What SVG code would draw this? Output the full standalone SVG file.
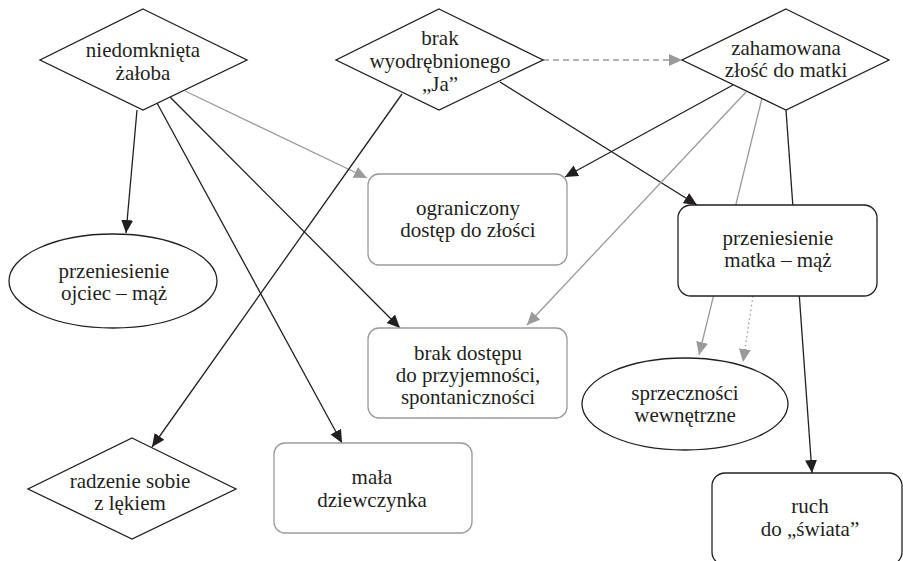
<svg xmlns="http://www.w3.org/2000/svg" width="903" height="561" viewBox="0 0 903 561">
  <style>
    .dark { fill: #fff; stroke: #231f20; stroke-width: 1.3; }
    .soft { fill: #fff; stroke: #9a9a9a; stroke-width: 1.3; }
    .e-dark { fill: none; stroke: #231f20; stroke-width: 1.3; }
    .e-soft { fill: none; stroke: #9a9a9a; stroke-width: 1.3; }
    .dashed { stroke-dasharray: 6 4; }
    .dotted { stroke-dasharray: 1.5 3; }
  </style>
  <defs>
    <marker id="head-dark" markerUnits="userSpaceOnUse" markerWidth="14" markerHeight="13" refX="13" refY="6" orient="auto">
      <path d="M0,0 L13,6 L0,12 z" fill="#231f20"/>
    </marker>
    <marker id="head-soft" markerUnits="userSpaceOnUse" markerWidth="14" markerHeight="13" refX="13" refY="6" orient="auto">
      <path d="M0,0 L13,6 L0,12 z" fill="#9a9a9a"/>
    </marker>
  </defs>
  <rect width="903" height="561" fill="#fff"/>

  <!-- connectors (drawn first so node fills cover pass-through segments) -->
  <g id="connectors">
    <line class="e-dark" x1="137" y1="110" x2="126" y2="233" marker-end="url(#head-dark)"/>
    <line class="e-dark" x1="157" y1="103" x2="342" y2="443" marker-end="url(#head-dark)"/>
    <line class="e-dark" x1="170" y1="97" x2="400" y2="328" marker-end="url(#head-dark)"/>
    <line class="e-soft" x1="185" y1="91" x2="367" y2="178" marker-end="url(#head-soft)"/>
    <line class="e-dark" x1="402" y1="94" x2="152" y2="447" marker-end="url(#head-dark)"/>
    <line class="e-dark" x1="500" y1="82" x2="697" y2="205" marker-end="url(#head-dark)"/>
    <line class="e-soft dashed" x1="543" y1="60" x2="682" y2="60" marker-end="url(#head-soft)"/>
    <line class="e-dark" x1="733" y1="85" x2="565" y2="177" marker-end="url(#head-dark)"/>
    <line class="e-soft" x1="746" y1="92" x2="527" y2="325" marker-end="url(#head-soft)"/>
    <line class="e-soft" x1="762" y1="98" x2="699" y2="355" marker-end="url(#head-soft)"/>
    <line class="e-dark" x1="786" y1="110" x2="812" y2="473" marker-end="url(#head-dark)"/>
    <line class="e-soft dotted" x1="753" y1="296" x2="743" y2="362" marker-end="url(#head-soft)"/>
  </g>

  <!-- all node labels share one serif text setting -->
  <g font-family="Liberation Serif, DejaVu Serif, serif" font-size="21" fill="#231f20" text-anchor="middle">
    <g id="niedomknieta-zaloba">
      <polygon class="dark" points="143,9 247,60 143,110 40,60"/>
      <text x="143" y="57">niedomknięta</text>
      <text x="143" y="80">żałoba</text>
    </g>

    <g id="brak-wyodrebnionego-ja">
      <polygon class="dark" points="439,9 543,60 439,110 336,60"/>
      <text x="440" y="45">brak</text>
      <text x="440" y="68">wyodrębnionego</text>
      <text x="440" y="91">„Ja”</text>
    </g>

    <g id="zahamowana-zlosc">
      <polygon class="dark" points="786,9 889,60 786,110 682,60"/>
      <text x="786" y="55">zahamowana</text>
      <text x="786" y="77">złość do matki</text>
    </g>

    <g id="ograniczony-dostep">
      <rect class="soft" x="368" y="174" width="199" height="91" rx="11"/>
      <text x="468" y="215">ograniczony</text>
      <text x="468" y="237">dostęp do złości</text>
    </g>

    <g id="przeniesienie-matka-maz">
      <rect class="dark" x="678" y="205" width="199" height="91" rx="13"/>
      <text x="778" y="245">przeniesienie</text>
      <text x="778" y="267">matka – mąż</text>
    </g>

    <g id="przeniesienie-ojciec-maz">
      <ellipse class="dark" cx="113" cy="281" rx="104" ry="47"/>
      <text x="114" y="278">przeniesienie</text>
      <text x="114" y="300">ojciec – mąż</text>
    </g>

    <g id="brak-dostepu">
      <rect class="soft" x="368" y="328" width="199" height="90" rx="11"/>
      <text x="468" y="360">brak dostępu</text>
      <text x="468" y="382">do przyjemności,</text>
      <text x="468" y="404">spontaniczności</text>
    </g>

    <g id="sprzecznosci-wewnetrzne">
      <ellipse class="dark" cx="685" cy="404" rx="103" ry="46"/>
      <text x="685" y="400">sprzeczności</text>
      <text x="685" y="422">wewnętrzne</text>
    </g>

    <g id="radzenie-sobie">
      <polygon class="dark" points="132,438 236,489 132,539 28,489"/>
      <text x="130" y="488">radzenie sobie</text>
      <text x="130" y="510">z lękiem</text>
    </g>

    <g id="mala-dziewczynka">
      <rect class="soft" x="274" y="443" width="198" height="90" rx="11"/>
      <text x="372" y="484">mała</text>
      <text x="372" y="507">dziewczynka</text>
    </g>

    <g id="ruch-do-swiata">
      <rect class="dark" x="712" y="473" width="190" height="92" rx="13"/>
      <text x="810" y="513">ruch</text>
      <text x="810" y="536">do „świata”</text>
    </g>
  </g>
</svg>
